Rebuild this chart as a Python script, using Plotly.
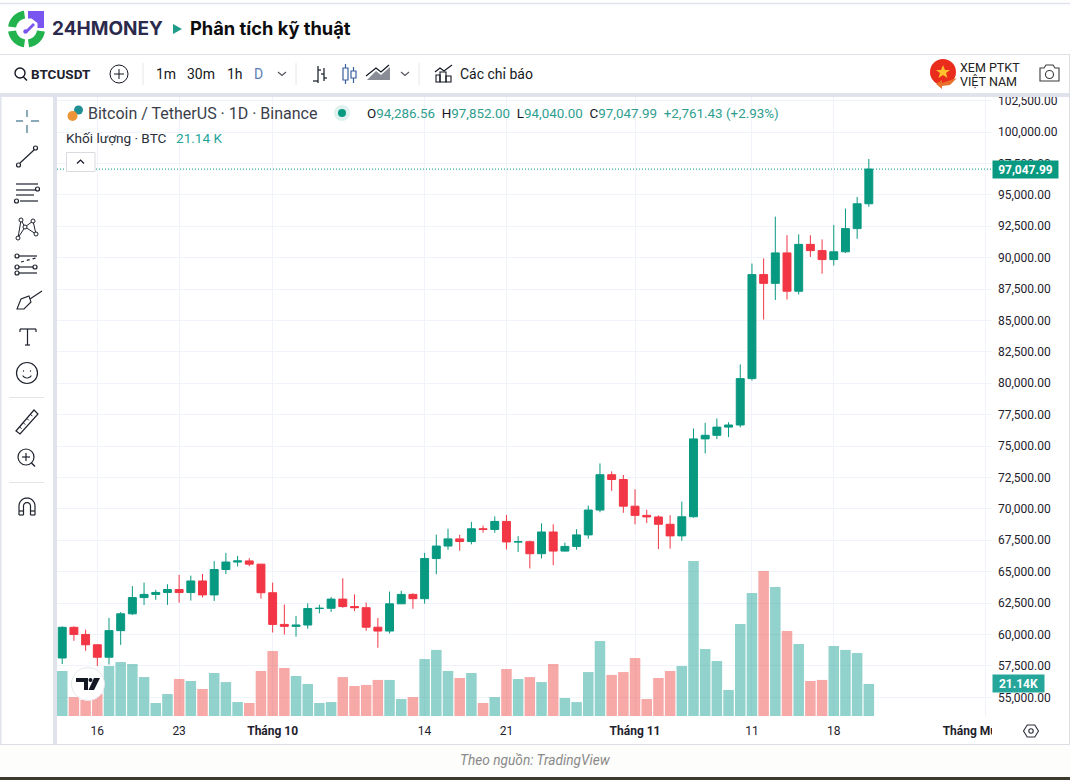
import math
import pandas as pd
import plotly.graph_objects as go

W, H = 1070, 780

# ---------------- data ----------------
start_date = "2024-09-13"
opens = [58130,60571,60005,59182,58192,60308,61649,62940,63192,63348,63578,63339,64262,63152,65173,65769,65858,65602,
         63327,60804,60649,60754,62067,62089,62818,62224,62134,60583,60276,62445,63193,62851,66046,67042,67612,67399,
         68418,68362,69001,67368,67385,66432,68161,66642,67014,67929,69907,72720,72339,70215,69482,69358,68775,67850,
         69372,75571,75857,76509,76677,80370,88648,87952,90375,87325,91056,90558,89845,90464,92310,94286.56]
highs = [60648,60656,60381,59210,61320,61786,63850,64133,63559,64000,64745,64688,64817,65839,66498,66260,66076,65618,
         64130,62390,61477,62484,62370,62988,64478,63200,62543,61320,63417,63480,63285,66500,67950,68424,67939,68969,
         68668,69400,69519,67836,67472,68850,68771,67317,68388,70270,73620,72985,72700,71560,69932,69483,69500,70577,
         76400,76849,77199,76900,81500,89530,89940,93265,91790,91850,91779,91449,92594,93905,94831,97852.00]
lows = [57650,59500,58700,57500,57610,59174,61555,62350,62758,62357,62538,62700,62947,62670,64819,65422,65432,62856,
        60164,60000,59828,60459,61689,61800,62128,61860,60301,58946,60087,62445,62050,62457,64800,66750,66666,67177,
        68105,68100,66764,66571,65260,66048,65521,66603,66753,67620,69729,71436,69685,68779,68873,66800,66835,67458,
        69298,74414,75555,75714,76492,80216,85072,86623,86668,87073,90056,88722,89376,90370,91500,94040.00]
closes = [60571,60005,59182,58192,60308,61649,62940,63192,63348,63578,63339,64262,63152,65173,65769,65858,65602,63327,
          60805,60649,60754,62067,62089,62818,62224,62134,60583,60276,62445,63193,62851,66046,67041,67612,67399,68418,
          68362,69001,67368,67385,66432,68161,66642,67014,67929,69907,72720,72339,70215,69482,69358,68775,67850,69372,
          75571,75857,76509,76677,80370,88648,87952,90375,87325,91056,90558,89845,90464,92310,94286,97047.99]
volumes_k = [29.7,12.5,10.6,14.5,33.0,35.6,34.3,25.7,8.6,14.5,24.4,23.1,17.8,28.4,22.4,9.2,8.6,29.7,42.9,31.7,26.4,
             21.1,8.6,9.2,25.7,19.8,20.5,23.8,23.8,11.2,12.5,37.6,43.6,29.7,25.1,28.4,8.6,12.5,31.0,24.4,25.7,22.4,
             34.3,11.9,9.2,29.0,49.5,27.1,29.0,38.3,11.2,25.1,29.7,33.0,102.3,44.2,36.3,17.2,60.7,81.2,95.7,85.1,
             56.1,47.5,23.1,23.8,46.2,43.6,41.6,21.14]
price_ticks = [55000 + 2500 * i for i in range(20)]
time_tick_dates = ["2024-09-16","2024-09-23","2024-10-01","2024-10-14","2024-10-21","2024-11-01","2024-11-11","2024-11-18","2024-12-01"]
time_tick_labels = ["16","23","<b>Tháng 10</b>","14","21","<b>Tháng 11</b>","11","18","<b>Tháng Mười Hai</b>"]
last_close = 97047.99
last_volume_k = 21.14

dates = pd.date_range(start_date, periods=len(closes), freq="D")

# ---------------- palette ----------------
UP, DOWN = "#089981", "#f23645"
VOL_UP, VOL_DOWN = "rgba(38,166,154,0.5)", "rgba(239,83,80,0.5)"
GRID = "#f0f3fa"
BORDER = "#e0e3eb"
INK = "#131722"
TEAL = "#26a69a"
FONT = "Roboto, Arial, sans-serif"

# ---------------- pixel helpers for the page chrome ----------------
def px(x): return x / W
def py(y): return 1 - y / H

shapes, annots = [], []

def rect(x0, y0, x1, y1, fill=None, line=None, lw=1, layer="above"):
    shapes.append(dict(type="rect", xref="paper", yref="paper", x0=px(x0), x1=px(x1), y0=py(y0), y1=py(y1),
                       fillcolor=fill or "rgba(0,0,0,0)", line=dict(color=line or "rgba(0,0,0,0)", width=lw if line else 0), layer=layer))

def seg(x0, y0, x1, y1, color=INK, lw=1.2, layer="above", dash=None):
    shapes.append(dict(type="line", xref="paper", yref="paper", x0=px(x0), x1=px(x1), y0=py(y0), y1=py(y1),
                       line=dict(color=color, width=lw, dash=dash or "solid"), layer=layer))

def circ(cx, cy, r, fill=None, line=None, lw=1.2):
    shapes.append(dict(type="circle", xref="paper", yref="paper", x0=px(cx - r), x1=px(cx + r), y0=py(cy + r), y1=py(cy - r),
                       fillcolor=fill or "rgba(0,0,0,0)", line=dict(color=line or "rgba(0,0,0,0)", width=lw if line else 0), layer="above"))

def path(points, fill=None, line=None, lw=1.2, close=True):
    d = "M " + " L ".join(f"{px(x):.5f},{py(y):.5f}" for x, y in points) + (" Z" if close else "")
    shapes.append(dict(type="path", xref="paper", yref="paper", path=d,
                       fillcolor=fill or "rgba(0,0,0,0)", line=dict(color=line or "rgba(0,0,0,0)", width=lw if line else 0), layer="above"))

def arc_pts(cx, cy, r, a0, a1, n=18):
    return [(cx + r * math.cos(math.radians(a0 + (a1 - a0) * i / n)), cy + r * math.sin(math.radians(a0 + (a1 - a0) * i / n))) for i in range(n + 1)]

def ring(cx, cy, r0, r1, a0, a1, fill):
    path(arc_pts(cx, cy, r1, a0, a1) + arc_pts(cx, cy, r0, a1, a0), fill=fill)

def text(x, y, s, size=13, color=INK, anchor="left", font=FONT, bold=False):
    annots.append(dict(xref="paper", yref="paper", x=px(x), y=py(y), text=f"<b>{s}</b>" if bold else s, showarrow=False,
                       xanchor=anchor, yanchor="middle", align=anchor, font=dict(family=font, size=size, color=color),
                       borderpad=0, borderwidth=0))

# ---------------- page frame (covers anything outside the chart) ----------------
rect(0, 0, W, 54, fill="#ffffff")                # header
seg(0, 3.5, W, 3.5, color=BORDER, lw=1.5)
rect(0, 54, W, 94, fill="#ffffff")                # toolbar
seg(0, 54.5, W, 54.5, color="#dfe1e6", lw=1)
rect(0, 93, W, 97, fill=BORDER)                  # band under toolbar
rect(0, 97, 53, 744, fill="#ffffff")             # left toolbar
rect(53, 93, 57, 744, fill=BORDER)
rect(0, 97, 1.5, 744, fill=BORDER)
rect(992, 717, W, 744, fill="#ffffff")           # clip the last time label
rect(0, 744, W, H, fill="#fdfdfb")
seg(0, 744.5, W, 744.5, color="#dcdee3", lw=1.2)
seg(1069.5, 54, 1069.5, 744, color="#dcdee3", lw=1)
rect(0, 777, W, H, fill="#3c3a2e")
text(535, 760, "<i>Theo nguồn: TradingView</i>", size=13.7, color="#8a8a8a", anchor="center")

# ---------------- logo + title ----------------
GREEN = "#22b34f"
PURPLE = "#7a56f0"
ring(26.5, 29, 10.5, 18.5, 98, 172, GREEN)
ring(26.5, 29, 10.5, 18.5, 188, 262, GREEN)
ring(26.5, 29, 10.5, 18.5, 8, 82, GREEN)
path([(28, 11), (44, 11), (44, 28), (37.5, 28), (37.5, 23), (31.5, 18.5), (28, 18.5)], fill=PURPLE)
path([(25, 31), (33, 23), (35, 25), (27, 33)], fill=PURPLE)
circ(25.5, 31.5, 2.2, fill=PURPLE)
text(52, 29, "24HMONEY", size=19, color="#2b2a4c", font="Inter, Arial, sans-serif", bold=True)
rect(115.5, 20, 121, 26.5, fill="#ffffff")
path([(115, 21.5), (121, 21.5), (121, 27)], fill=PURPLE)
path([(173, 24), (182, 29), (173, 34)], fill="#1f9d8a")
text(190, 28.5, "Phân tích kỹ thuật", size=18.3, color="#0c0c0c", font="Inter, Arial, sans-serif", bold=True)

# ---------------- top toolbar ----------------
circ(20, 73, 5, line=INK, lw=1.4)
seg(23.5, 77, 27, 80.5, lw=1.5)
text(31, 74, "BTCUSDT", size=13.5, bold=True, color="#1e222d")
circ(119, 74, 9, line=INK, lw=1)
seg(114, 74, 124, 74, lw=1)
seg(119, 69, 119, 79, lw=1)
for xs in (143, 296, 419):
    seg(xs, 63, xs, 85, color="#e4e6ea", lw=1)
text(156, 74, "1m", size=14)
text(187, 74, "30m", size=14)
text(227, 74, "1h", size=14)
text(254, 74, "D", size=14, color="#5b7fb5")
for xc in (282, 405):
    path([(xc - 4, 72), (xc, 75.5), (xc + 4, 72)], line="#50535e", lw=1.1, close=False)
# bar-style icon
seg(318, 66, 318, 83, lw=1.2); seg(313, 81, 318, 81, lw=1.2); seg(318, 70, 321, 70, lw=1.2)
seg(324, 68, 324, 81, lw=1.2); seg(321, 74, 324, 74, lw=1.2); seg(324, 78, 327, 78, lw=1.2)
# candle-style icon (selected)
seg(345.5, 64, 345.5, 84, color="#3a5f9e")
seg(353.5, 67, 353.5, 83, color="#3a5f9e")
rect(343, 68, 348, 80, fill="#ffffff", line="#3a5f9e", lw=1.2); rect(351, 71, 356, 78, fill="#ffffff", line="#3a5f9e", lw=1.2)
# area-style icon
path([(367, 80), (376, 71), (381, 75), (390, 67), (390, 80)], fill="#8a8d96")
path([(366, 76), (376, 68), (381, 72), (389, 65)], line=INK, lw=1.2, close=False)
# indicators icon + label
path([(435, 72), (440, 68), (444, 71), (452, 65)], line=INK, lw=1.1, close=False)
rect(436, 75, 440, 82, line=INK, lw=1.1); rect(440, 72, 446, 82, line=INK, lw=1.1); rect(446, 76, 451, 82, line=INK, lw=1.1)
text(460, 74, "Các chỉ báo", size=14)
# flag button + camera
circ(943, 72, 13, fill="#ea2c1c")
path([(943, 65), (945, 70), (950, 70), (946, 73), (947.5, 78), (943, 75), (938.5, 78), (940, 73), (936, 70), (941, 70)], fill="#ffc22e")
path([(936, 84), (942, 80), (942, 83), (957, 78), (950, 85), (942, 86), (942, 89)], fill="#e8702a")
text(960, 67, "XEM PTKT", size=12.5, color="#222222")
text(960, 82, "VIỆT NAM", size=12.5, color="#222222")
path([(1040, 68), (1044, 68), (1046, 65), (1053, 65), (1055, 68), (1059, 68), (1059, 81), (1040, 81)], line="#3a3a3a", lw=1.1)
circ(1049.5, 74.5, 4, line="#3a3a3a", lw=1.1)

# ---------------- left toolbar icons ----------------
ICON = "#1e222d"
c = "#3f6f86"
seg(27, 110, 27, 117, color=c); seg(27, 125, 27, 133, color=c); seg(16, 121, 23, 121, color=c); seg(31, 121, 39, 121, color=c)
seg(20, 163, 34, 150, color=ICON); circ(18.5, 165, 2, fill="#fff", line=ICON); circ(35.5, 148, 2, fill="#fff", line=ICON)
seg(16, 184, 38, 184, color=ICON); seg(16, 190, 38, 190, color=ICON); seg(16, 195, 34, 195, color=ICON); seg(20, 201, 38, 201, color=ICON)
circ(37.5, 189, 2, fill="#fff", line=ICON); circ(16.5, 201, 2, fill="#fff", line=ICON)
pts = [(18, 238), (21, 220), (25, 227), (33, 221), (36, 234)]
path([pts[0], pts[1], pts[2], pts[4], pts[3], pts[2], pts[0]], line=ICON, lw=1, close=False)
for q in pts:
    circ(q[0], q[1], 2, fill="#fff", line=ICON, lw=1)
seg(18, 256, 37, 256, color=ICON); seg(18, 267, 37, 267, color=ICON); seg(18, 273, 37, 273, color=ICON)
seg(21, 262, 36, 258, color=ICON, dash="dot")
for q in [(17, 256), (17, 267), (35, 267), (17, 273)]:
    circ(q[0], q[1], 2, fill="#fff", line=ICON)
path([(17, 309), (21, 299), (29, 296), (31, 302), (24, 309)], line=ICON, lw=1.1)
path([(30, 299), (42, 291)], line=ICON, lw=1.1, close=False)
seg(20, 329, 36, 329, color=ICON); seg(27.5, 329, 27.5, 345, color=ICON); seg(25, 345, 30, 345, color=ICON); seg(20, 329, 20, 332, color=ICON); seg(36, 329, 36, 332, color=ICON)
circ(27, 373, 10.5, line=ICON)
circ(23.5, 371, 0.7, fill=ICON); circ(30.5, 371, 0.7, fill=ICON)
path(arc_pts(27, 373, 5, 30, 150, 8), line=ICON, lw=1.1, close=False)
seg(9, 397.5, 44, 397.5, color="#e2e4e8")
path([(16, 431), (34, 410), (38, 414), (20, 434)], line=ICON)
for t in (0.2, 0.4, 0.6, 0.8):
    ax, ay = 16 + 18 * t, 431 - 21 * t
    seg(ax, ay, ax + 2, ay + 2, color=ICON, lw=1)
circ(26, 457, 8, line=ICON)
seg(22, 457, 30, 457, color=ICON); seg(26, 453, 26, 461, color=ICON); seg(31.5, 463, 35, 466.5, color=ICON, lw=1.4)
seg(9, 482.5, 44, 482.5, color="#e2e4e8")
path(arc_pts(27, 506, 8, 180, 360, 14), line=ICON, close=False)
path(arc_pts(27, 506, 3.5, 180, 360, 10), line=ICON, close=False)
seg(19, 506, 19, 515, color=ICON); seg(35, 506, 35, 515, color=ICON); seg(23.5, 506, 23.5, 515, color=ICON); seg(30.5, 506, 30.5, 515, color=ICON)
seg(19, 515, 23.5, 515, color=ICON); seg(30.5, 515, 35, 515, color=ICON); seg(19, 511, 23.5, 511, color=ICON); seg(30.5, 511, 35, 511, color=ICON)

# ---------------- legend in the pane ----------------
circ(78.5, 110, 4.5, fill="#1f8f94")
circ(72.5, 116, 5, fill="#ee9537")
text(88, 113, "Bitcoin / TetherUS · 1D · Binance", size=16, color="#3a3e4a")
circ(342, 113, 8, fill="#dff1ee")
circ(342, 113, 4, fill=UP)
def ohlc(letter, v):
    return f"<span style='color:{INK}'>{letter}</span>{v:,.2f}"
legend = (f"{ohlc('O', opens[-1])}  {ohlc('H', highs[-1])}  {ohlc('L', lows[-1])}  {ohlc('C', closes[-1])}  "
          f"+{closes[-1] - opens[-1]:,.2f} (+{(closes[-1] - opens[-1]) / opens[-1] * 100:.2f}%)")
text(367, 113.5, legend, size=13.4, color="#2f9e8f")
text(66, 137.5, "Khối lượng · BTC", size=13.6, color="#2a2e39")
text(176, 137.5, f"{last_volume_k:.2f} K", size=13.6, color=TEAL)
rect(66.5, 152.5, 95, 171.5, fill="#ffffff", line="#d9dbe0", lw=1)
path([(77, 163.5), (80.5, 160), (84, 163.5)], line=INK, lw=1.2, close=False)

# ---------------- TradingView badge ----------------
circ(88, 684, 16.5, fill="#ffffff", line="#e6e8ec", lw=1)
path([(76, 678), (88, 678), (88, 690), (84, 690), (84, 682), (76, 682)], fill="#131722")
circ(90.5, 680, 2, fill="#131722")
path([(94, 678), (100, 678), (94, 690), (88.5, 690)], fill="#131722")

# ---------------- settings icon ----------------
hexa = [(1031 + 7.5 * math.cos(math.radians(a)), 731 + 7 * math.sin(math.radians(a))) for a in range(0, 360, 60)]
path(hexa, line="#2a2e39", lw=1.1)
circ(1031, 731, 2.2, line="#2a2e39", lw=1.1)

# ---------------- last price tags ----------------
shapes.insert(0, dict(type="line", xref="paper", yref="y2", x0=px(57), x1=px(992), y0=last_close, y1=last_close,
                      line=dict(color=UP, width=1, dash="1px,2px"), layer="above"))
def tag(y, yref, s, bg, w):
    annots.append(dict(xref="paper", yref=yref, x=px(992), y=y, text=f"<b>{s}</b>", showarrow=False, xanchor="left",
                       yanchor="middle", bgcolor=bg, borderpad=0, width=w, height=17, align="center",
                       font=dict(family=FONT, size=12, color="#ffffff")))
tag(last_close, "y2", f"{last_close:,.2f}", UP, 65)
tag(last_volume_k, "y", f"{last_volume_k:.2f}K", TEAL, 51)

# ---------------- figure ----------------
vol_colors = [VOL_UP if c_ >= o_ else VOL_DOWN for o_, c_ in zip(opens, closes)]
fig = go.Figure()
fig.add_trace(go.Bar(x=dates, y=volumes_k, marker=dict(color=vol_colors, line=dict(width=0)),
                     width=86400000 * 0.9, yaxis="y", hoverinfo="skip", showlegend=False))
fig.add_trace(go.Candlestick(x=dates, open=opens, high=highs, low=lows, close=closes, yaxis="y2", showlegend=False,
                             whiskerwidth=0,
                             increasing=dict(line=dict(color=UP, width=1), fillcolor=UP),
                             decreasing=dict(line=dict(color=DOWN, width=1), fillcolor=DOWN)))

pt_per_px = 79.6
px_per_day = 11.69
tick0 = pd.Timestamp("2024-09-16")
fig.update_layout(
    width=W, height=H, margin=dict(l=0, r=0, t=0, b=0, pad=0, autoexpand=False), autosize=False,
    paper_bgcolor="#ffffff", plot_bgcolor="#ffffff", showlegend=False, boxgap=0.32, boxgroupgap=0,
    font=dict(family=FONT, color=INK, size=12),
    xaxis=dict(type="date", domain=[px(57), px(992)], anchor="y2", automargin=False,
               range=[tick0 - pd.Timedelta(days=40.3 / px_per_day), tick0 + pd.Timedelta(days=894.7 / px_per_day)],
               tickmode="array", tickvals=time_tick_dates, ticktext=time_tick_labels, tickangle=0,
               showgrid=True, gridcolor=GRID, gridwidth=1, zeroline=False, showline=False, ticks="", rangeslider=dict(visible=False),
               ticklabelstandoff=6, tickfont=dict(family=FONT, size=12, color="#1e222d")),
    yaxis=dict(domain=[py(716), py(97)], range=[0, (716 - 97) * 0.66], visible=False, fixedrange=True, showgrid=False),
    yaxis2=dict(domain=[py(716), py(97)], overlaying="y", side="right", anchor="x", automargin=False,
                range=[100000 - (716 - 132) * pt_per_px, 100000 + (132 - 97) * pt_per_px],
                tickmode="array", tickvals=price_ticks, ticktext=[f"{v:,.2f}" for v in price_ticks],
                showgrid=True, gridcolor=GRID, gridwidth=1, zeroline=False, showline=False, ticks="", ticklabelstandoff=5,
                tickfont=dict(family=FONT, size=12, color="#1e222d")),
    shapes=shapes, annotations=annots,
)
fig.write_html("out.html", config={"displayModeBar": False},
               post_script="document.body.style.margin='0';document.body.style.overflow='hidden';")
